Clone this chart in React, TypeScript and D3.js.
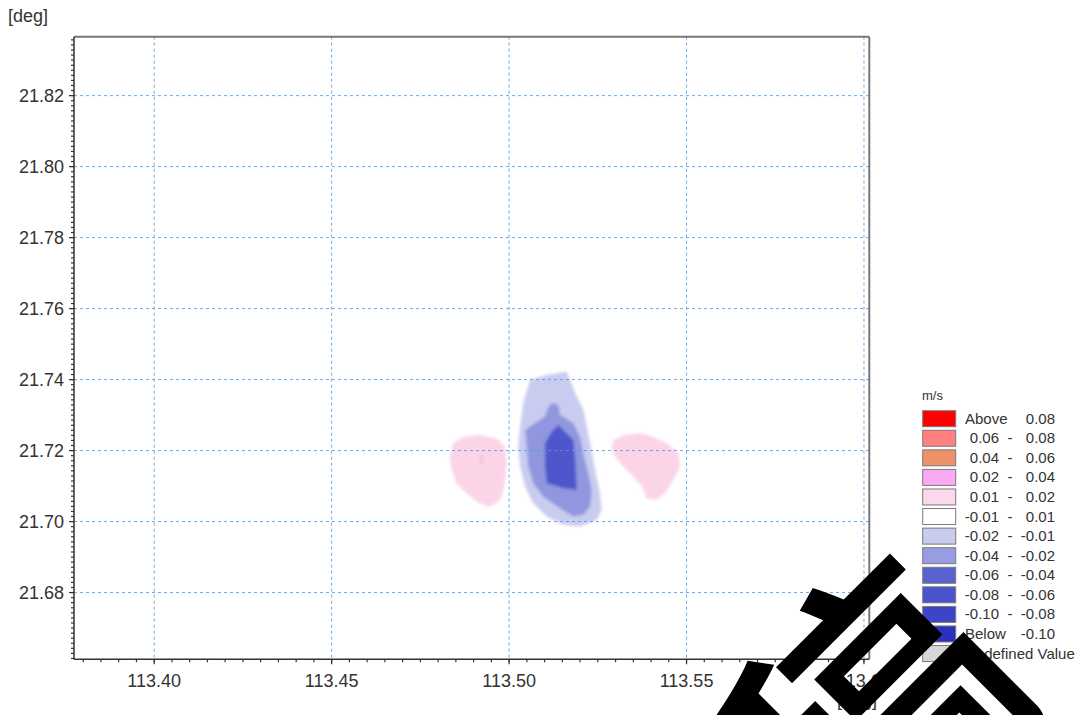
import React from 'react';
import * as d3 from 'd3';

// ---------- data ----------
const xDomain: [number, number] = [113.3774, 113.6015];
const yDomain: [number, number] = [21.6612, 21.8366];
const xTicks = [113.4, 113.45, 113.5, 113.55, 113.6];
const yTicks = [21.68, 21.7, 21.72, 21.74, 21.76, 21.78, 21.8, 21.82];

const legendColors = [
  '#ff0000', '#ff8080', '#ee9068', '#f9aaf0', '#fdd8ea', '#ffffff',
  '#c9cced', '#979de0', '#5a62d2', '#4a52cc', '#3d45c6', '#2b30bd', '#d6d6d6',
];
const legendFrom = ['Above', '0.06', '0.04', '0.02', '0.01', '-0.01', '-0.02', '-0.04', '-0.06', '-0.08', '-0.10', 'Below', 'Undefined Value'];
const legendTo = ['0.08', '0.08', '0.06', '0.04', '0.02', '0.01', '-0.01', '-0.02', '-0.04', '-0.06', '-0.08', '-0.10', ''];

// contour bands, [lon, lat]
const bandOuterNeg: [number, number][] = [
  [113.5059, 21.7399], [113.5106, 21.7413], [113.5162, 21.7423], [113.5172, 21.7399],
  [113.5191, 21.7352], [113.5209, 21.7315], [113.5219, 21.7268], [113.5228, 21.7222],
  [113.5242, 21.7146], [113.5256, 21.7081], [113.5261, 21.7033], [113.5247, 21.7005],
  [113.52, 21.6986], [113.5152, 21.6991], [113.5106, 21.7014], [113.5067, 21.7053],
  [113.5045, 21.7099], [113.5031, 21.7155], [113.5026, 21.7211], [113.5031, 21.7268],
  [113.504, 21.7334],
];
const bandMidNeg: [number, number][] = [
  [113.512, 21.7334], [113.5139, 21.7329], [113.5143, 21.7301], [113.5181, 21.7277],
  [113.52, 21.7239], [113.5209, 21.7193], [113.5223, 21.7136], [113.5233, 21.7089],
  [113.5228, 21.7042], [113.5209, 21.7019], [113.5181, 21.7014], [113.5143, 21.7038],
  [113.5096, 21.707], [113.5068, 21.7108], [113.5054, 21.7155], [113.505, 21.7211],
  [113.5045, 21.7258], [113.5073, 21.7277], [113.5101, 21.7296], [113.5111, 21.7324],
];
const bandInnerNeg: [number, number][] = [
  [113.5139, 21.7272], [113.5181, 21.723], [113.5186, 21.7183], [113.5191, 21.7089],
  [113.5153, 21.7094], [113.5106, 21.7108], [113.5101, 21.7155], [113.5101, 21.7221],
  [113.512, 21.7254],
];
const bandPosLeft: [number, number][] = [
  [113.4843, 21.7221], [113.4871, 21.7239], [113.4918, 21.7244], [113.4965, 21.7235],
  [113.4988, 21.7211], [113.4993, 21.7165], [113.4988, 21.7108], [113.4979, 21.707],
  [113.4965, 21.7052], [113.4941, 21.7042], [113.4909, 21.7056], [113.4881, 21.708],
  [113.4852, 21.7108], [113.4838, 21.7146], [113.4833, 21.7183],
];
const bandPosRight: [number, number][] = [
  [113.5294, 21.723], [113.5322, 21.7244], [113.5369, 21.7249], [113.5406, 21.7239],
  [113.5444, 21.7221], [113.5477, 21.7193], [113.5482, 21.7155], [113.5463, 21.7117],
  [113.5444, 21.7085], [113.5416, 21.7061], [113.5388, 21.7066], [113.5374, 21.7099],
  [113.535, 21.7127], [113.5322, 21.7155], [113.5299, 21.7183], [113.5289, 21.7207],
];
const bandPosSpot: [number, number][] = [
  [113.4920, 21.7185], [113.4925, 21.7185], [113.4925, 21.7163], [113.4920, 21.7163],
];

const bands = [
  { pts: bandPosLeft, color: '#fcd4e8' },
  { pts: bandPosRight, color: '#fcd4e8' },
  { pts: bandPosSpot, color: '#f6a8dc' },
  { pts: bandOuterNeg, color: '#c9ccef' },
  { pts: bandMidNeg, color: '#9197de' },
  { pts: bandInnerNeg, color: '#4f57cb' },
];

// ---------- layout ----------
const W = 1084;
const H = 715;
const L = 74;
const R = 869.3;
const T = 36.7;
const B = 659.3;

export default function App() {
  const x = d3.scaleLinear().domain(xDomain).range([L, R]);
  const y = d3.scaleLinear().domain(yDomain).range([B, T]);
  const line = d3
    .line<[number, number]>()
    .x((d) => x(d[0]))
    .y((d) => y(d[1]))
    .curve(d3.curveLinearClosed);

  const xMinor = d3.range(113.38, 113.6016, 0.005);
  const yStep = 0.02 / 14;
  const yMinor: number[] = [];
  for (let k = -20; k < 200; k++) {
    const v = 21.68 + k * yStep;
    if (v >= yDomain[0] && v <= yDomain[1]) yMinor.push(v);
  }

  const font = '"Liberation Sans", Arial, sans-serif';
  const legX = 922.7;
  const legY = 410.7;
  const legStep = 19.57;

  return (
    <svg width={W} height={H} style={{ position: 'absolute', left: 0, top: 0, background: '#fff' }} fontFamily={font}>
      <defs>
        <clipPath id="plotClip">
          <rect x={L} y={T} width={R - L} height={B - T} />
        </clipPath>
        <filter id="soft" x="-10%" y="-10%" width="120%" height="120%">
          <feGaussianBlur stdDeviation="1.4" />
        </filter>
      </defs>
      <rect x={0} y={0} width={W} height={H} fill="#fff" />

      <g clipPath="url(#plotClip)" filter="url(#soft)">
        {bands.map((b, i) => (
          <path key={i} d={line(b.pts) || ''} fill={b.color} stroke="none" />
        ))}
      </g>

      {/* grid */}
      <g stroke="#4d9bf0" strokeWidth={1} strokeDasharray="3 3" opacity={0.85}>
        {xTicks.map((t) => (
          <line key={'gx' + t} x1={x(t)} x2={x(t)} y1={T} y2={B} />
        ))}
        {yTicks.map((t) => (
          <line key={'gy' + t} x1={L} x2={R} y1={y(t)} y2={y(t)} />
        ))}
      </g>

      {/* frame */}
      <line x1={L} x2={R} y1={T} y2={T} stroke="#777" strokeWidth={2} />
      <line x1={R} x2={R} y1={T} y2={B} stroke="#777" strokeWidth={2} />
      <line x1={L} x2={L} y1={T} y2={B} stroke="#333" strokeWidth={1.5} />
      <line x1={L} x2={R} y1={B} y2={B} stroke="#333" strokeWidth={1.5} />

      {/* ticks */}
      <g stroke="#333" strokeWidth={1.2}>
        {xMinor.map((t, i) => (
          <line key={'xm' + i} x1={x(t)} x2={x(t)} y1={B} y2={B + 3} />
        ))}
        {xTicks.map((t) => (
          <line key={'xM' + t} x1={x(t)} x2={x(t)} y1={B} y2={B + 5} />
        ))}
        {yMinor.map((t, i) => (
          <line key={'ym' + i} x1={L - 3} x2={L} y1={y(t)} y2={y(t)} />
        ))}
        {yTicks.map((t) => (
          <line key={'yM' + t} x1={L - 5} x2={L} y1={y(t)} y2={y(t)} />
        ))}
      </g>

      {/* tick labels */}
      <g fill="#333" fontSize={18}>
        {xTicks.map((t) => (
          <text key={'xl' + t} x={x(t)} y={687} textAnchor="middle">
            {t.toFixed(2)}
          </text>
        ))}
        {yTicks.map((t) => (
          <text key={'yl' + t} x={64} y={y(t) + 6.5} textAnchor="end">
            {t.toFixed(2)}
          </text>
        ))}
      </g>
      <text x={8} y={22} fontSize={18} fill="#333">[deg]</text>
      <text x={877} y={706} fontSize={18} fill="#333" textAnchor="end">[deg]</text>

      {/* legend */}
      <text x={922} y={400} fontSize={13} fill="#333">m/s</text>
      {legendColors.map((c, i) => {
        const top = legY + i * legStep;
        const base = top + 13;
        const from = legendFrom[i];
        const to = legendTo[i];
        const isWord = from === 'Above' || from === 'Below';
        const isUndef = to === '';
        return (
          <g key={'lg' + i}>
            <rect x={legX} y={top} width={33} height={16} fill={c} stroke="#7a7a7a" strokeWidth={1} />
            {isUndef ? (
              <text x={965} y={base} fontSize={15} fill="#333">{from}</text>
            ) : isWord ? (
              <>
                <text x={965} y={base} fontSize={15} fill="#333">{from}</text>
                <text x={1055} y={base} fontSize={15} fill="#333" textAnchor="end">{to}</text>
              </>
            ) : (
              <>
                <text x={999} y={base} fontSize={15} fill="#333" textAnchor="end">{from}</text>
                <text x={1010} y={base} fontSize={15} fill="#333" textAnchor="middle">-</text>
                <text x={1055} y={base} fontSize={15} fill="#333" textAnchor="end">{to}</text>
              </>
            )}
          </g>
        );
      })}

      {/* watermark */}
      <text
        x={0}
        y={0}
        transform="translate(860,705) rotate(-45)"
        textAnchor="middle"
        dominantBaseline="central"
        fontSize={280}
        fontFamily='"Noto Sans CJK SC", sans-serif'
        fontWeight={500}
        fill="#000"
      >
        稿
      </text>
    </svg>
  );
}
